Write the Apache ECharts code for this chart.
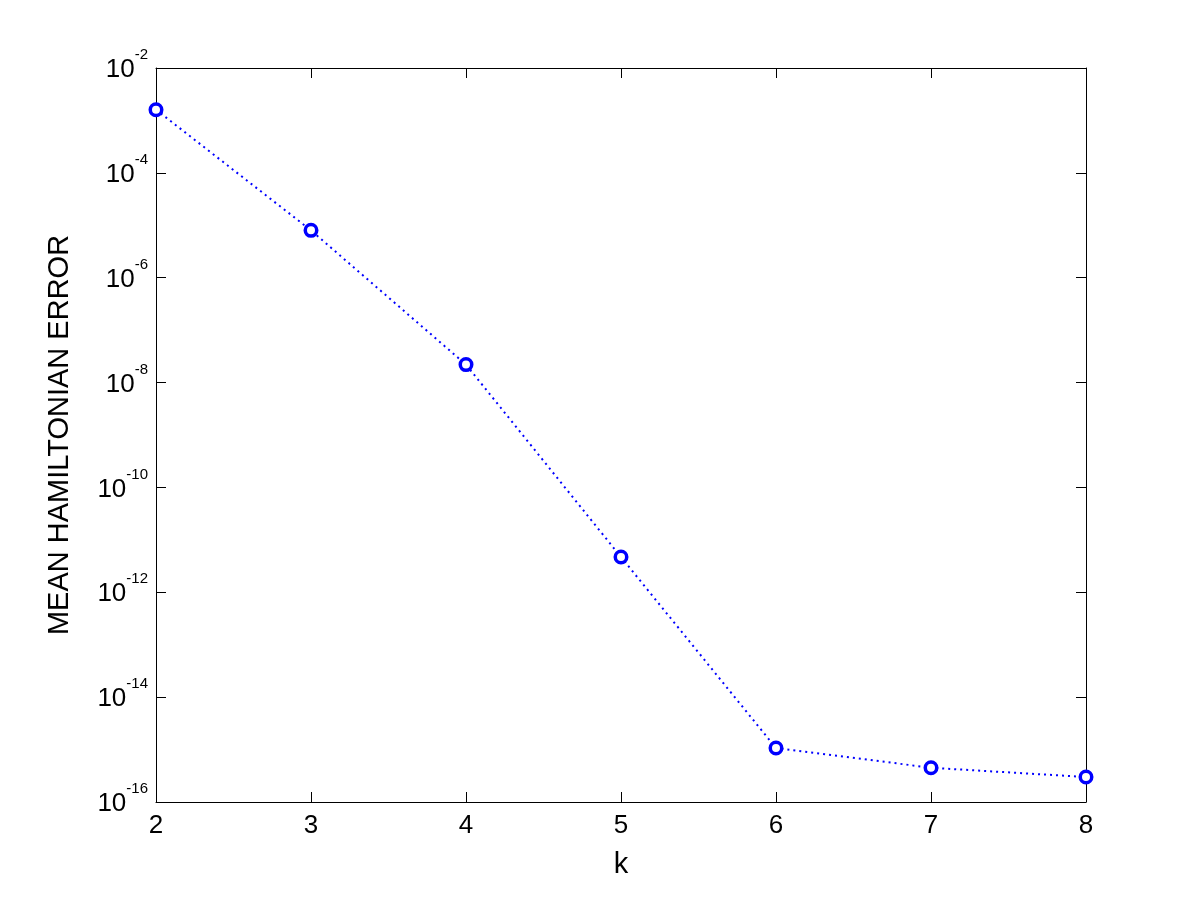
<!DOCTYPE html>
<html><head><meta charset="utf-8">
<script src="https://cdn.jsdelivr.net/npm/echarts@6/dist/echarts.min.js"></script>
<style>html,body{margin:0;padding:0;background:#fff}#c{width:1200px;height:901px}</style>
</head><body><div id="c"></div>
<script>
const kValues = [2, 3, 4, 5, 6, 7, 8];
const meanHamiltonianError = [1.6e-3, 8.0e-6, 2.2e-8, 4.7e-12, 1.07e-15, 4.5e-16, 3.0e-16];
const yExponentTicks = [-16, -14, -12, -10, -8, -6, -4, -2];

const FONT = 'Liberation Sans';
const chart = echarts.init(document.getElementById('c'));
const yFmt = v => {
  const e = Math.round(Math.log10(v));
  return '{b|10}{e|' + e + '}';
};
const axisCommon = {
  axisLine: {show: true, lineStyle: {color: '#000', width: 1}},
  splitLine: {show: false},
  axisTick: {show: true, inside: true, length: 10, lineStyle: {color: '#000'}}
};
chart.setOption({
  animation: false,
  backgroundColor: '#fff',
  grid: {left: 156, right: 114, top: 68, bottom: 99, containLabel: false},
  xAxis: [
    Object.assign({
      type: 'value', min: 2, max: 8, interval: 1, position: 'bottom',
      name: 'k', nameLocation: 'middle', nameGap: 48,
      nameTextStyle: {fontFamily: FONT, fontSize: 29, color: '#000'},
      axisLabel: {fontFamily: FONT, fontSize: 26, color: '#000', margin: 11}
    }, axisCommon),
    Object.assign({
      type: 'value', min: 2, max: 8, interval: 1, position: 'top',
      axisLabel: {show: false}
    }, axisCommon)
  ],
  yAxis: [
    Object.assign({
      type: 'log', logBase: 10, min: 1e-16, max: 1e-2, interval: 2, position: 'left',
      name: 'MEAN HAMILTONIAN ERROR', nameLocation: 'middle', nameGap: 82, nameRotate: 90,
      nameTextStyle: {fontFamily: FONT, fontSize: 29, color: '#000'},
      axisLabel: {
        formatter: yFmt, margin: 8, padding: [4, 0, 0, 0],
        rich: {
          b: {fontFamily: FONT, fontSize: 26, color: '#000', lineHeight: 26, verticalAlign: 'bottom'},
          e: {fontFamily: FONT, fontSize: 15, color: '#000', lineHeight: 15, padding: [0, 0, 20.5, 0], verticalAlign: 'bottom'}
        }
      }
    }, axisCommon),
    Object.assign({
      type: 'log', logBase: 10, min: 1e-16, max: 1e-2, interval: 2, position: 'right',
      axisLabel: {show: false}
    }, axisCommon)
  ],
  series: [{
    type: 'line',
    data: kValues.map((k, i) => [k, meanHamiltonianError[i]]),
    symbol: 'circle', symbolSize: 11.5, showSymbol: true,
    clip: false,
    lineStyle: {color: '#0000ff', width: 2, type: [2, 4]},
    itemStyle: {color: '#fff', borderColor: '#0000ff', borderWidth: 3.5}
  }]
});
</script></body></html>
